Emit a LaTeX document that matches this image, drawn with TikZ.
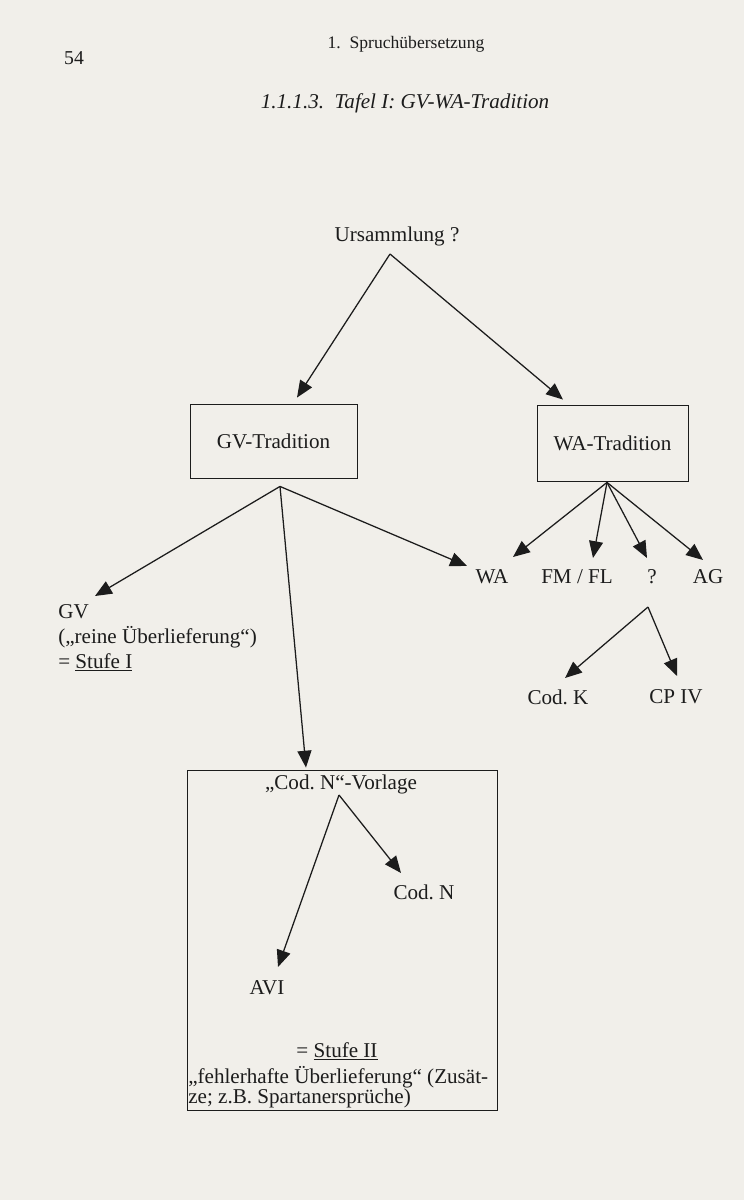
\documentclass[tikz,border=0pt]{standalone}
\usepackage{fontspec}
\setmainfont{Liberation Serif}
\usetikzlibrary{positioning,calc,arrows.meta}

\definecolor{paper}{RGB}{241,239,234}
\definecolor{ink}{RGB}{28,28,28}

\begin{document}
\frenchspacing
\begin{tikzpicture}[x=0.025cm, y=-0.025cm,
    lbl/.style={inner sep=0pt, anchor=base, text=ink, font=\fontsize{15}{17.7}\selectfont},
    tbox/.style={draw=ink, line width=0.6pt, inner sep=0pt, text=ink, font=\fontsize{15}{17.7}\selectfont},
    arr/.style={-{Triangle[length=4.2mm,width=3.5mm]}, line width=0.9pt, draw=ink}]
    % page
    \fill[paper] (0,0) rectangle (744,1200);

    % header
    \node[lbl, anchor=center, font=\fontsize{14}{16}\selectfont] (pnum) at (74,58) {54};
    \node[lbl, anchor=center, font=\fontsize{12.5}{15}\selectfont] (head) at (406,44) {1.\enspace Spruchübersetzung};
    \node[lbl, anchor=center, font=\fontsize{15}{18}\selectfont\itshape] (title) at (405,103) {1.1.1.3.\enspace Tafel I: GV-WA-Tradition};

    % top
    \node[lbl] (urs) at (397,242) {Ursammlung ?};
    \node[tbox, minimum width=4.175cm, minimum height=1.85cm] (gvt) at (273.5,441) {GV-Tradition};
    \node[tbox, minimum width=3.775cm, minimum height=1.9cm] (wat) at (612.5,443) {WA-Tradition};

    % GV branch
    \node[lbl, anchor=north west, align=left] (gvl) at (58,604) {GV\\(„reine Überlieferung“)\\= \underline{Stufe I}};

    % WA branch
    \node[lbl] (wa) at (492,583) {WA};
    \node[lbl] (fmfl) at (577,583) {FM / FL};
    \node[lbl] (qq) at (652,583) {?};
    \node[lbl] (ag) at (708,583) {AG};
    \node[lbl] (codk) at (558,704) {Cod. K};
    \node[lbl] (cpiv) at (676,703) {CP IV};

    % Stufe II box
    \node[tbox, minimum width=7.75cm, minimum height=8.5cm] (nbox) at (342,940) {};
    \node[lbl] (vorl) at (341,789) {„Cod. N“-Vorlage};
    \node[lbl] (codn) at (424,899) {Cod. N};
    \node[lbl] (avi) at (267,994) {AVI};
    \node[lbl] (stufe2) at (337,1057) {= \underline{Stufe II}};
    \node[lbl, anchor=north west, align=left, font=\fontsize{15}{14.6}\selectfont] (fehl) at (188,1066) {„fehlerhafte Überlieferung“ (Zusät-\\ze; z.B. Spartanersprüche)};

    % arrows
    \draw[arr] ($(urs.base)+(-7,12)$) -- ($(gvt.north)+(23.5,-6)$);
    \draw[arr] ($(urs.base)+(-7,12)$) -- ($(wat.north)+(-49.5,-5)$);

    \draw[arr] ($(gvt.south)+(6.5,8)$) -- ($(gvl.north west)+(37,-8)$);
    \draw[arr] ($(gvt.south)+(6.5,8)$) -- ($(wa.base)+(-25,-17)$);
    \draw[arr] ($(gvt.south)+(6.5,8)$) -- ($(nbox.north)+(-36,-2)$);

    \draw[arr] ($(wat.south)+(-5.5,1)$) -- ($(wa.base)+(21,-26)$);
    \draw[arr] ($(wat.south)+(-5.5,1)$) -- ($(fmfl.base)+(16,-25)$);
    \draw[arr] ($(wat.south)+(-5.5,1)$) -- ($(qq.base)+(-5,-25)$);
    \draw[arr] ($(wat.south)+(-5.5,1)$) -- ($(ag.base)+(-5,-23)$);

    \draw[arr] ($(qq.base)+(-4,24)$) -- ($(codk.base)+(7,-26)$);
    \draw[arr] ($(qq.base)+(-4,24)$) -- ($(cpiv.base)+(1,-27)$);

    \draw[arr] ($(vorl.base)+(-2,6)$) -- ($(avi.base)+(11,-27)$);
    \draw[arr] ($(vorl.base)+(-2,6)$) -- ($(codn.base)+(-23,-26)$);
\end{tikzpicture}
\end{document}
